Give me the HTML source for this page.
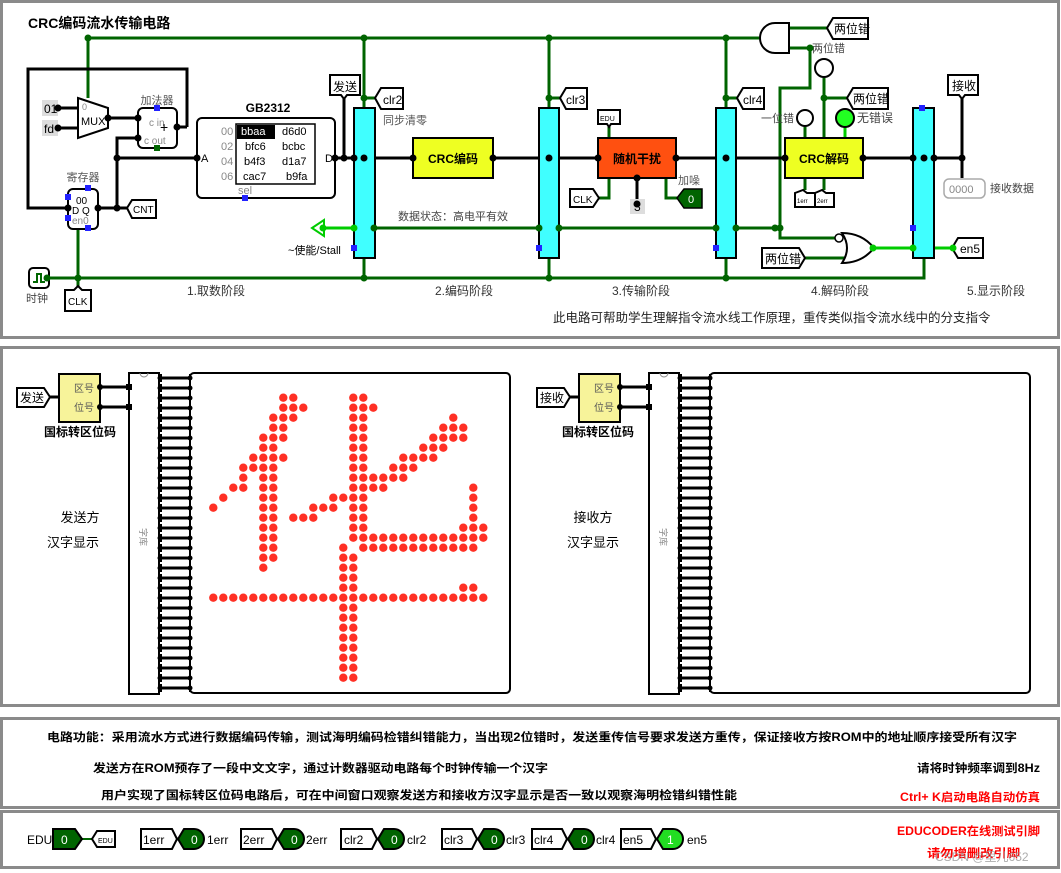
<!DOCTYPE html>
<html><head><meta charset="utf-8">
<style>
html,body{margin:0;padding:0;background:#fff;}
svg{display:block;font-family:"Liberation Sans","Noto Sans CJK SC",sans-serif;}
</style></head><body>
<svg id="s" width="1061" height="873" viewBox="0 0 1061 873" xmlns="http://www.w3.org/2000/svg">
<rect width="1061" height="873" fill="#fff"/>
<rect x="1.5" y="1.5" width="1057" height="336" fill="none" stroke="#8a8a8a" stroke-width="3"/>
<rect x="1.5" y="347.5" width="1057" height="358" fill="none" stroke="#8a8a8a" stroke-width="3"/>
<rect x="1.5" y="718.5" width="1057" height="89" fill="none" stroke="#8a8a8a" stroke-width="3"/>
<rect x="1.5" y="811.5" width="1057" height="56" fill="none" stroke="#8a8a8a" stroke-width="3"/>

<text x="28" y="28" font-size="14" font-weight="bold">CRC编码流水传输电路</text>

<g stroke="#006400" stroke-width="3" fill="none">
<polyline points="88,98 88,38 760,38"/>
<line x1="364" y1="38" x2="364" y2="108"/>
<line x1="549" y1="38" x2="549" y2="108"/>
<line x1="726" y1="38" x2="726" y2="108"/>
<line x1="364" y1="98" x2="376" y2="98"/>
<line x1="549" y1="98" x2="561" y2="98"/>
<line x1="726" y1="98" x2="738" y2="98"/>
<polyline points="47,278 924,278 924,258"/>
<line x1="364" y1="278" x2="364" y2="258"/>
<line x1="549" y1="278" x2="549" y2="258"/>
<line x1="726" y1="278" x2="726" y2="258"/>
<polyline points="78,229 78,290"/>
<line x1="374" y1="228" x2="780" y2="228"/>
<polyline points="789,48 810,48 810,88 780,88 780,238 836,238"/>
<line x1="789" y1="28" x2="828" y2="28"/>
<line x1="805" y1="258" x2="845" y2="258"/>
<polyline points="824,78 824,138"/>
<line x1="824" y1="98" x2="848" y2="98"/>
<line x1="805" y1="127" x2="805" y2="138"/>
<polyline points="609,127 609,138"/>
<polyline points="598,198 609,198 609,178"/>
<polyline points="666,178 666,198 677,198"/>
<line x1="805" y1="178" x2="805" y2="190"/>
<line x1="824" y1="178" x2="824" y2="190"/>
</g>
<g stroke="#00cc00" stroke-width="3" fill="none">
<line x1="323" y1="228" x2="354" y2="228"/>
<line x1="873" y1="248" x2="953" y2="248"/>
<line x1="845" y1="127" x2="845" y2="138"/>
</g>
<polygon points="312,228 324,220 324,236" fill="#fff" stroke="#00cc00" stroke-width="2"/>

<g stroke="#000" stroke-width="3" fill="none">
<polyline points="187,127 187,69 28,69 28,208 68,208"/>
<line x1="58" y1="108" x2="78" y2="108"/>
<line x1="58" y1="128" x2="78" y2="128"/>
<line x1="108" y1="118" x2="138" y2="118"/>
<line x1="177" y1="127" x2="187" y2="127"/>
<polyline points="138,138 117,138 117,208"/>
<line x1="117" y1="158" x2="197" y2="158"/>
<line x1="98" y1="208" x2="130" y2="208"/>
<line x1="335" y1="158" x2="354" y2="158"/>
<line x1="344" y1="98" x2="344" y2="158"/>
<line x1="375" y1="158" x2="413" y2="158"/>
<line x1="493" y1="158" x2="539" y2="158"/>
<line x1="559" y1="158" x2="598" y2="158"/>
<line x1="676" y1="158" x2="716" y2="158"/>
<line x1="736" y1="158" x2="785" y2="158"/>
<line x1="863" y1="158" x2="913" y2="158"/>
<line x1="934" y1="158" x2="962" y2="158"/>
<line x1="962" y1="98" x2="962" y2="178"/>
<line x1="637" y1="178" x2="637" y2="200"/>
</g>

<polygon points="78,98 108,108 108,128 78,138" fill="#fff" stroke="#000" stroke-width="2"/>
<text x="81" y="125" font-size="11">MUX</text>
<text x="82" y="110" font-size="9" fill="#888">0</text>
<rect x="42" y="100" width="16" height="16" fill="#ddd"/><text x="44" y="113" font-size="12">01</text>
<rect x="42" y="120" width="16" height="16" fill="#ddd"/><text x="44" y="133" font-size="12">fd</text>
<rect x="138" y="108" width="39" height="40" rx="5" fill="#fff" stroke="#000" stroke-width="2"/>
<text x="157" y="104" font-size="11" text-anchor="middle" fill="#555">加法器</text>
<text x="149" y="126" font-size="10" fill="#888">c in</text>
<text x="144" y="144" font-size="10" fill="#888">c out</text>
<text x="160" y="132" font-size="14">+</text>
<rect x="154" y="105" width="6" height="6" fill="#22f"/>
<rect x="154" y="145" width="6" height="6" fill="#060"/>
<text x="83" y="181" font-size="11" text-anchor="middle" fill="#555">寄存器</text>
<rect x="68" y="189" width="30" height="40" rx="5" fill="#fff" stroke="#000" stroke-width="2"/>
<text x="76" y="204" font-size="10">00</text>
<text x="72" y="214" font-size="10">D Q</text>
<text x="72" y="224" font-size="10" fill="#888">en0</text>
<rect x="85" y="185" width="6" height="6" fill="#22f"/>
<rect x="65" y="194" width="6" height="6" fill="#22f"/>
<rect x="65" y="215" width="6" height="6" fill="#22f"/>
<rect x="85" y="225" width="6" height="6" fill="#22f"/>
<polygon points="127,208 132,200 156,200 156,218 132,218" fill="#fff" stroke="#000" stroke-width="2"/>
<text x="133" y="213" font-size="10">CNT</text>
<rect x="29" y="268" width="20" height="20" rx="4" fill="#fff" stroke="#000" stroke-width="2"/>
<polyline points="33,282 37,282 37,274 41,274 41,282 45,282" fill="none" stroke="#060" stroke-width="2"/>
<text x="26" y="302" font-size="11" fill="#444">时钟</text>
<polygon points="78,286 82,290 91,290 91,311 65,311 65,290 74,290" fill="#fff" stroke="#000" stroke-width="2"/>
<text x="68" y="305" font-size="10">CLK</text>

<text x="268" y="112" font-size="12" font-weight="bold" text-anchor="middle">GB2312</text>
<rect x="197" y="118" width="138" height="80" rx="5" fill="#fff" stroke="#000" stroke-width="2"/>
<rect x="236" y="124" width="79" height="60" fill="#fff" stroke="#000" stroke-width="1.5"/>
<rect x="237" y="125" width="38" height="14" fill="#000"/>
<g font-size="11">
<text x="221" y="135" fill="#888">00</text><text x="241" y="135" fill="#fff">bbaa</text><text x="282" y="135">d6d0</text>
<text x="221" y="150" fill="#888">02</text><text x="245" y="150">bfc6</text><text x="282" y="150">bcbc</text>
<text x="221" y="165" fill="#888">04</text><text x="244" y="165">b4f3</text><text x="282" y="165">d1a7</text>
<text x="221" y="180" fill="#888">06</text><text x="243" y="180">cac7</text><text x="286" y="180">b9fa</text>
<text x="238" y="194" fill="#888">sel</text>
<text x="201" y="162">A</text><text x="325" y="162">D</text>
</g>
<rect x="242" y="195" width="6" height="6" fill="#22f"/>

<polygon points="330,75 360,75 360,95 347,95 344,99 341,95 330,95" fill="#fff" stroke="#000" stroke-width="2"/>
<text x="333" y="91" font-size="12">发送</text>
<g fill="#40ffff" stroke="#000" stroke-width="2">
<rect x="354" y="108" width="21" height="150"/>
<rect x="539" y="108" width="20" height="150"/>
<rect x="716" y="108" width="20" height="150"/>
<rect x="913" y="108" width="21" height="150"/>
</g>
<g fill="#22f">
<rect x="351" y="245" width="6" height="6"/>
<rect x="536" y="245" width="6" height="6"/>
<rect x="713" y="245" width="6" height="6"/>
<rect x="919" y="105" width="6" height="6"/>
<rect x="910" y="225" width="6" height="6"/>
</g>
<text x="288" y="254" font-size="11">~使能/Stall</text>
<g fill="#fff" stroke="#000" stroke-width="2">
<polygon points="375,98 381,88 403,88 403,109 381,109"/>
<polygon points="560,98 566,88 587,88 587,109 566,109"/>
<polygon points="737,98 743,88 764,88 764,109 743,109"/>
<polygon points="827,28 833,18 868,18 868,39 833,39"/>
<polygon points="847,98 853,88 888,88 888,109 853,109"/>
<polygon points="952,248 958,238 983,238 983,258 958,258"/>
<polygon points="762,248 799,248 805,258 799,268 762,268"/>
<polygon points="948,75 978,75 978,95 965,95 962,99 959,95 948,95"/>
<polygon points="598,110 620,110 620,124 611,124 609,127 607,124 598,124"/>
<polygon points="570,189 593,189 599,198 593,207 570,207"/>
<polygon points="795,193 803,190 807,193 815,193 815,207 795,207"/>
<polygon points="815,193 822,190 826,193 834,193 834,207 815,207"/>
</g>
<text x="383" y="104" font-size="12">clr2</text>
<text x="566" y="104" font-size="12">clr3</text>
<text x="743" y="104" font-size="12">clr4</text>
<text x="834" y="33" font-size="12">两位错</text>
<text x="853" y="103" font-size="12">两位错</text>
<text x="960" y="253" font-size="12">en5</text>
<text x="765" y="263" font-size="12">两位错</text>
<text x="952" y="90" font-size="12">接收</text>
<text x="600" y="121" font-size="7">EDU</text>
<text x="573" y="203" font-size="10">CLK</text>
<text x="797" y="203" font-size="6">1err</text>
<text x="817" y="203" font-size="6">2err</text>
<text x="383" y="124" font-size="11" fill="#555">同步清零</text>
<text x="398" y="220" font-size="11" fill="#444">数据状态：高电平有效</text>

<rect x="413" y="138" width="80" height="40" fill="#eeff22" stroke="#000" stroke-width="2"/>
<text x="453" y="163" font-size="12" font-weight="bold" text-anchor="middle">CRC编码</text>
<rect x="598" y="138" width="78" height="40" fill="#ff5010" stroke="#000" stroke-width="2"/>
<text x="637" y="163" font-size="12" font-weight="bold" text-anchor="middle">随机干扰</text>
<rect x="785" y="138" width="78" height="40" fill="#eeff22" stroke="#000" stroke-width="2"/>
<text x="824" y="163" font-size="12" font-weight="bold" text-anchor="middle">CRC解码</text>
<rect x="630" y="199" width="15" height="15" fill="#ddd"/><text x="634" y="211" font-size="12">3</text>
<text x="678" y="184" font-size="11" fill="#555">加噪</text>
<polygon points="677,198 684,189 702,189 702,208 684,208" fill="#006400" stroke="#000" stroke-width="1.5"/>
<text x="688" y="203" font-size="11" fill="#fff">0</text>
<circle cx="824" cy="68" r="9" fill="#fff" stroke="#000" stroke-width="2"/>
<circle cx="805" cy="118" r="8" fill="#fff" stroke="#000" stroke-width="2"/>
<circle cx="845" cy="118" r="9" fill="#22ff22" stroke="#000" stroke-width="2"/>
<text x="761" y="122" font-size="11" fill="#444">一位错</text>
<text x="857" y="122" font-size="12" fill="#444">无错误</text>
<text x="812" y="52" font-size="11" fill="#444">两位错</text>
<path d="M789,23 L775,23 A15,15 0 0 0 775,53 L789,53 Z" fill="#fff" stroke="#000" stroke-width="2"/>
<path d="M842,233 Q852,248 842,263 Q862,263 874,248 Q862,233 842,233 Z" fill="#fff" stroke="#000" stroke-width="2"/>
<circle cx="839" cy="238" r="4" fill="#fff" stroke="#000" stroke-width="1.5"/>
<rect x="944" y="179" width="41" height="19" rx="5" fill="#fff" stroke="#aaa" stroke-width="1.5"/>
<text x="949" y="193" font-size="11" fill="#888">0000</text>
<text x="990" y="192" font-size="11" fill="#444">接收数据</text>

<g font-size="12" fill="#333">
<text x="187" y="295">1.取数阶段</text>
<text x="435" y="295">2.编码阶段</text>
<text x="612" y="295">3.传输阶段</text>
<text x="811" y="295">4.解码阶段</text>
<text x="967" y="295">5.显示阶段</text>
</g>
<text x="553" y="322" font-size="12.5" fill="#222">此电路可帮助学生理解指令流水线工作原理，重传类似指令流水线中的分支指令</text>

<g id="dots" fill="#000"></g>

<g id="p2"></g>
<text x="80" y="522" font-size="13" text-anchor="middle">发送方</text>
<text x="73" y="547" font-size="13" text-anchor="middle">汉字显示</text>
<text x="593" y="522" font-size="13" text-anchor="middle">接收方</text>
<text x="593" y="547" font-size="13" text-anchor="middle">汉字显示</text>
<text x="80" y="436" font-size="12" font-weight="bold" text-anchor="middle">国标转区位码</text>
<text x="598" y="436" font-size="12" font-weight="bold" text-anchor="middle">国标转区位码</text>
<text x="20" y="402" font-size="12">发送</text>
<text x="540" y="402" font-size="12">接收</text>
<text x="74" y="392" font-size="10" fill="#555">区号</text>
<text x="74" y="411" font-size="10" fill="#555">位号</text>
<text x="594" y="392" font-size="10" fill="#555">区号</text>
<text x="594" y="411" font-size="10" fill="#555">位号</text>
<text x="140" y="528" font-size="9" fill="#888" transform="rotate(90 140 528)">字库</text>
<text x="660" y="528" font-size="9" fill="#888" transform="rotate(90 660 528)">字库</text>

<g font-size="11.5" font-weight="bold">
<text x="47" y="741" textLength="970" lengthAdjust="spacingAndGlyphs">电路功能：采用流水方式进行数据编码传输，测试海明编码检错纠错能力，当出现2位错时，发送重传信号要求发送方重传，保证接收方按ROM中的地址顺序接受所有汉字</text>
<text x="93" y="772" textLength="455" lengthAdjust="spacingAndGlyphs">发送方在ROM预存了一段中文文字，通过计数器驱动电路每个时钟传输一个汉字</text>
<text x="101" y="799" textLength="636" lengthAdjust="spacingAndGlyphs">用户实现了国标转区位码电路后，可在中间窗口观察发送方和接收方汉字显示是否一致以观察海明检错纠错性能</text>
<text x="917" y="772" textLength="123" lengthAdjust="spacingAndGlyphs">请将时钟频率调到8Hz</text>
<text x="900" y="801" fill="#ff0000" textLength="140" lengthAdjust="spacingAndGlyphs">Ctrl+ K启动电路自动仿真</text>
<text x="897" y="835" fill="#ff0000" textLength="143" lengthAdjust="spacingAndGlyphs">EDUCODER在线测试引脚</text>
<text x="927" y="857" fill="#ff0000" textLength="93" lengthAdjust="spacingAndGlyphs">请勿增删改引脚</text>
</g>
<text x="935" y="861" font-size="12" fill="#999" opacity="0.8">CSDN @里儿652</text>

<g stroke-width="2">
<line x1="82" y1="839" x2="92" y2="839" stroke="#006400"/>
<polygon points="53,829 75,829 82,839 75,849 53,849" fill="#006400" stroke="#000"/>
<polygon points="92,839 97,831 115,831 115,847 97,847" fill="#fff" stroke="#000"/>
</g>
<text x="27" y="844" font-size="12">EDU</text>
<text x="61" y="844" font-size="12" fill="#fff">0</text>
<text x="98" y="843" font-size="7">EDU</text>
<g id="p4"></g>
<g font-size="12">
<text x="143" y="844">1err</text><text x="207" y="844">1err</text>
<text x="243" y="844">2err</text><text x="306" y="844">2err</text>
<text x="344" y="844">clr2</text><text x="407" y="844">clr2</text>
<text x="444" y="844">clr3</text><text x="506" y="844">clr3</text>
<text x="534" y="844">clr4</text><text x="596" y="844">clr4</text>
<text x="623" y="844">en5</text><text x="687" y="844">en5</text>
</g>
<g font-size="12" fill="#fff">
<text x="191" y="844">0</text><text x="291" y="844">0</text><text x="391" y="844">0</text>
<text x="491" y="844">0</text><text x="581" y="844">0</text><text x="667" y="844">1</text>
</g>
<script>
(function(){
var NS="http://www.w3.org/2000/svg";
function el(p,t,a){var e=document.createElementNS(NS,t);for(var k in a)e.setAttribute(k,a[k]);p.appendChild(e);return e;}
var d=document.getElementById("dots");
var J=[[88,38],[364,38],[549,38],[726,38],[364,98],[549,98],[726,98],[364,278],[549,278],[726,278],[78,278],[47,278],[117,158],[117,208],[344,158],[364,158],[549,158],[726,158],[924,158],[962,158],[775,228],[780,228],[810,48],[824,98],[637,178],[637,204],[374,228],[539,228],[559,228],[716,228],[736,228],[335,158],[413,158],[493,158],[598,158],[676,158],[785,158],[863,158],[58,108],[58,128],[108,118],[138,118],[138,138],[177,127],[98,208],[68,208],[197,158],[354,158],[913,158],[934,158]];
J.forEach(function(p){el(d,"circle",{cx:p[0],cy:p[1],r:3.5,fill:(p[1]==38||p[1]==98||p[1]==278||p[1]==228||p[1]==48)?"#006400":"#000"});});
[[323,228],[354,228],[873,248],[913,248],[953,248]].forEach(function(p){el(d,"circle",{cx:p[0],cy:p[1],r:3.5,fill:"#00cc00"});});
var g=document.getElementById("p2");
[0,520].forEach(function(o){
 el(g,"polygon",{points:(17+o)+",388 "+(44+o)+",388 "+(50+o)+",397 "+(44+o)+",407 "+(17+o)+",407",fill:"#fff",stroke:"#000","stroke-width":2});
 el(g,"line",{x1:50+o,y1:397,x2:59+o,y2:397,stroke:"#000","stroke-width":3});
 el(g,"rect",{x:59+o,y:374,width:41,height:48,fill:"#f7f39a",stroke:"#000","stroke-width":2});
 el(g,"polyline",{points:(100+o)+",387 "+(130+o)+",387",stroke:"#000","stroke-width":3});
 el(g,"polyline",{points:(100+o)+",407 "+(130+o)+",407",stroke:"#000","stroke-width":3});
 el(g,"rect",{x:129+o,y:373,width:30,height:321,fill:"#fff",stroke:"#000","stroke-width":2});
 el(g,"path",{d:"M"+(140+o)+",373 a4,4 0 0 0 8,0",fill:"none",stroke:"#888","stroke-width":1});
 el(g,"rect",{x:190+o,y:373,width:320,height:320,rx:4,fill:"#fff",stroke:"#000","stroke-width":2});
 for(var i=0;i<32;i++){var y=378+i*10;
  el(g,"line",{x1:159+o,y1:y,x2:190+o,y2:y,stroke:"#000","stroke-width":3});
  el(g,"circle",{cx:160+o,cy:y,r:2.5,fill:"#000"});
  el(g,"circle",{cx:190+o,cy:y,r:2.5,fill:"#000"});
  el(g,"line",{x1:161+o,y1:y-4,x2:161+o,y2:y+4,stroke:"#000","stroke-width":2});
  el(g,"line",{x1:190+o,y1:y-4,x2:190+o,y2:y+4,stroke:"#000","stroke-width":2});
 }
 [387,407].forEach(function(y){el(g,"circle",{cx:100+o,cy:y,r:3,fill:"#000"});el(g,"rect",{x:126+o,y:y-3,width:6,height:6,fill:"#000"});});
});
var R={0:[7,8,14,15],1:[7,8,9,14,15,16],2:[6,7,8,14,15,24],3:[6,7,14,15,23,24,25],4:[5,6,7,14,15,22,23,24,25],5:[5,6,14,15,21,22,23],6:[4,5,6,7,14,15,19,20,21,22],7:[3,4,5,6,14,15,18,19,20],8:[3,5,6,14,15,16,17,18,19],9:[2,3,5,6,14,15,16,17,26],10:[1,5,6,12,13,14,15,26],11:[0,5,6,10,11,12,14,15,26],12:[5,6,8,9,10,14,15,26],13:[5,6,14,15,25,26,27],15:[5,6,13],16:[5,6,13,14],17:[5,13,14],18:[13,14],19:[13,14,25,26]};
R[14]=[5,6];for(var c=14;c<=27;c++)R[14].push(c);
for(c=15;c<=26;c++)R[15].push(c);
R[20]=[];for(c=0;c<=27;c++)R[20].push(c);
for(var r=21;r<=28;r++)R[r]=[13,14];
for(var k in R){R[k].forEach(function(cc){el(g,"circle",{cx:213.3+cc*10,cy:397.7+k*10,r:4.2,fill:"#ff3025"});});}
var p=document.getElementById("p4");
[[141,178,"#006400"],[241,278,"#006400"],[341,378,"#006400"],[442,478,"#006400"],[532,568,"#006400"],[621,657,"#22dd22"]].forEach(function(a){
 var x=a[0],px=a[1],w=px-x-6;
 el(p,"line",{x1:x+w+4,y1:839,x2:px,y2:839,stroke:a[2],"stroke-width":3});
 el(p,"polygon",{points:x+",829 "+(x+w)+",829 "+(x+w+5)+",839 "+(x+w)+",849 "+x+",849",fill:"#fff",stroke:"#000","stroke-width":2});
 el(p,"path",{d:"M"+px+",839 L"+(px+6)+",829 L"+(px+16)+",829 A10,10 0 0 1 "+(px+16)+",849 L"+(px+6)+",849 Z",fill:a[2],stroke:"#000","stroke-width":2});
});
})();
</script>
</svg>
</body></html>
